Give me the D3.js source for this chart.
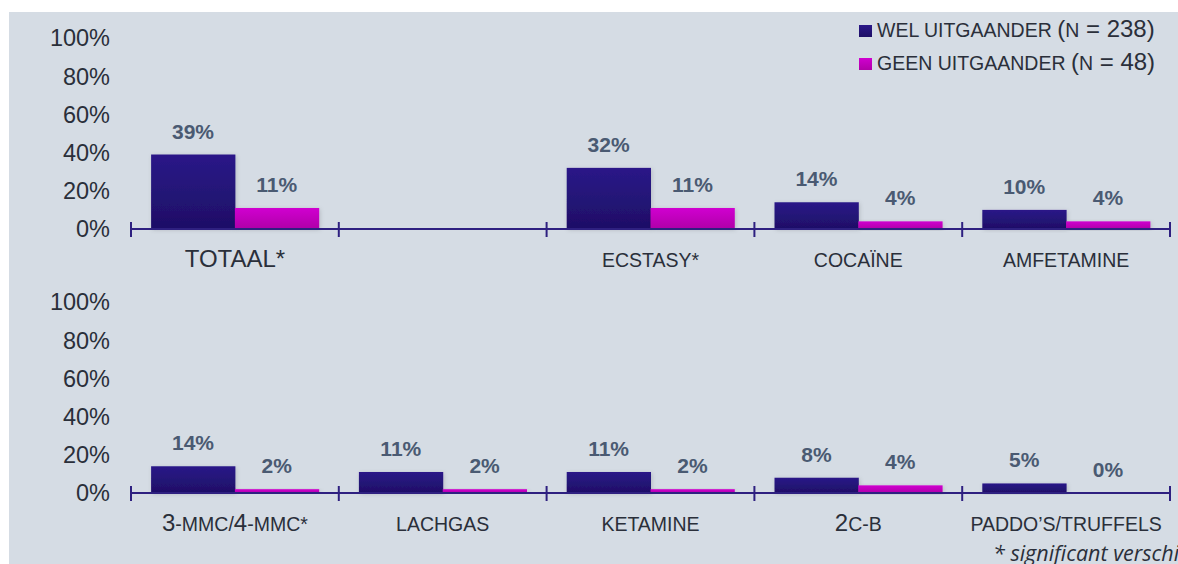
<!DOCTYPE html>
<html><head><meta charset="utf-8">
<script src="https://cdn.jsdelivr.net/npm/d3@7"></script>
<style>
html,body{margin:0;padding:0;background:#fff;}
svg{display:block;}
</style></head>
<body>
<script>
// ---- data ----
const seriesNames = ["WEL UITGAANDER", "GEEN UITGAANDER"];
const seriesN = [238, 48];
const topCategories = ["TOTAAL*", "", "ECSTASY*", "COCAÏNE", "AMFETAMINE"];
const topWel = [39, null, 32, 14, 10];
const topGeen = [11, null, 11, 4, 4];
const bottomCategories = ["3-MMC/4-MMC*", "LACHGAS", "KETAMINE", "2C-B", "PADDO’S/TRUFFELS"];
const bottomWel = [14, 11, 11, 8, 5];
const bottomGeen = [2, 2, 2, 4, 0];
const yTicks = [0, 20, 40, 60, 80, 100];
const footnote = "* significant verschil";

const W = 1178, H = 564;
const svg = d3.select("body").append("svg").attr("width", W).attr("height", H);
const defs = svg.append("defs");
const g1 = defs.append("linearGradient").attr("id","gBlue").attr("x1",0).attr("y1",0).attr("x2",0).attr("y2",1);
g1.append("stop").attr("offset","0%").attr("stop-color","#2a1888");
g1.append("stop").attr("offset","100%").attr("stop-color","#1e0f66");
const g2 = defs.append("linearGradient").attr("id","gMag").attr("x1",0).attr("y1",0).attr("x2",0).attr("y2",1);
g2.append("stop").attr("offset","0%").attr("stop-color","#d000d0");
g2.append("stop").attr("offset","100%").attr("stop-color","#b000a8");
const f = defs.append("filter").attr("id","sh").attr("x","-20%").attr("y","-20%").attr("width","140%").attr("height","140%");
f.append("feDropShadow").attr("dx",1).attr("dy",1).attr("stdDeviation",2).attr("flood-color","#000").attr("flood-opacity",0.15);

svg.append("rect").attr("x",9).attr("y",12).attr("width",W-9).attr("height",H-12).attr("fill","#d5dce4");

const fills = ["url(#gBlue)","url(#gMag)"];
const axisColor = "#2e2080";
const textColor = "#2a2f3a";
const valColor = "#4a5a72";
const FONT = "Liberation Sans, Arial, sans-serif";

function capsLabel(sel, text, big, small){
  const parts = text.match(/[0-9]+|[^0-9]+/g) || [];
  parts.forEach(p=>{
    sel.append("tspan").attr("font-size", /[0-9]/.test(p)?big:small).text(p);
  });
}

function panel(cats, wel, geen, y0, bigFirst){
  const x = d3.scaleBand().domain(d3.range(cats.length)).range([131,1170]).paddingInner(0).paddingOuter(0);
  const y = d3.scaleLinear().domain([0,100]).range([y0, y0-191]);
  const inner = d3.scaleBand().domain([0,1]).range([0, x.bandwidth()]).paddingOuter(0.24).paddingInner(0);
  const g = svg.append("g");

  g.selectAll(".yl").data(yTicks).join("text")
    .attr("x",110).attr("y",d=>y(d)).attr("dy","0.36em")
    .attr("text-anchor","end").attr("font-family",FONT)
    .attr("font-size",23.5).attr("fill",textColor).text(d=>d+"%");

  const data = [];
  cats.forEach((c,i)=>{
    [wel[i],geen[i]].forEach((v,s)=>{ if(v!==null) data.push({i,s,v}); });
  });
  g.selectAll(".bar").data(data).join("rect")
    .attr("x",d=>x(d.i)+inner(d.s)).attr("width",inner.bandwidth()+0.5)
    .attr("y",d=>y(d.v)).attr("height",d=>y(0)-y(d.v))
    .attr("fill",d=>fills[d.s]).attr("filter","url(#sh)");

  g.selectAll(".vl").data(data).join("text")
    .attr("x",d=>x(d.i)+inner(d.s)+inner.bandwidth()/2).attr("y",d=>y(d.v)-16)
    .attr("text-anchor","middle").attr("font-family",FONT)
    .attr("font-weight","bold").attr("font-size",21).attr("fill",valColor)
    .text(d=>d.v+"%");

  g.append("line").attr("x1",131).attr("x2",1170).attr("y1",y(0)).attr("y2",y(0))
    .attr("stroke",axisColor).attr("stroke-width",2.2);
  const tickPos = d3.range(cats.length+1).map(k=>k===cats.length?1170:x(k));
  g.selectAll(".tk").data(tickPos).join("line")
    .attr("x1",d=>d).attr("x2",d=>d).attr("y1",y(0)-7).attr("y2",y(0)+8)
    .attr("stroke",axisColor).attr("stroke-width",2);

  cats.forEach((c,i)=>{
    const t = g.append("text").attr("x",x(i)+x.bandwidth()/2).attr("y",y(0)+38)
      .attr("text-anchor","middle").attr("font-family",FONT)
      .attr("fill",textColor);
    if(bigFirst && i===0){ t.attr("font-size",24).text(c); }
    else capsLabel(t,c,24,19.5);
  });
}

panel(topCategories, topWel, topGeen, 229, true);
panel(bottomCategories, bottomWel, bottomGeen, 493, false);

const lg = svg.append("g");
seriesNames.forEach((s,k)=>{
  const yy = 31 + k*33;
  lg.append("rect").attr("x",859).attr("y",yy-6).attr("width",13).attr("height",12).attr("fill",fills[k]);
  const t = lg.append("text").attr("x",877).attr("y",yy).attr("dy","0.36em")
    .attr("font-family",FONT).attr("fill",textColor);
  t.append("tspan").attr("font-size",19.5).text(s+" ");
  t.append("tspan").attr("font-size",24).text("(");
  t.append("tspan").attr("font-size",19.5).text("N");
  t.append("tspan").attr("font-size",24).text(" = "+seriesN[k]+")");
});

svg.append("text").attr("x",993).attr("y",561)
  .attr("font-family","Open Sans, sans-serif").attr("font-style","italic")
  .attr("font-size",21.5).attr("fill",textColor).text(footnote);
</script>
</body></html>
